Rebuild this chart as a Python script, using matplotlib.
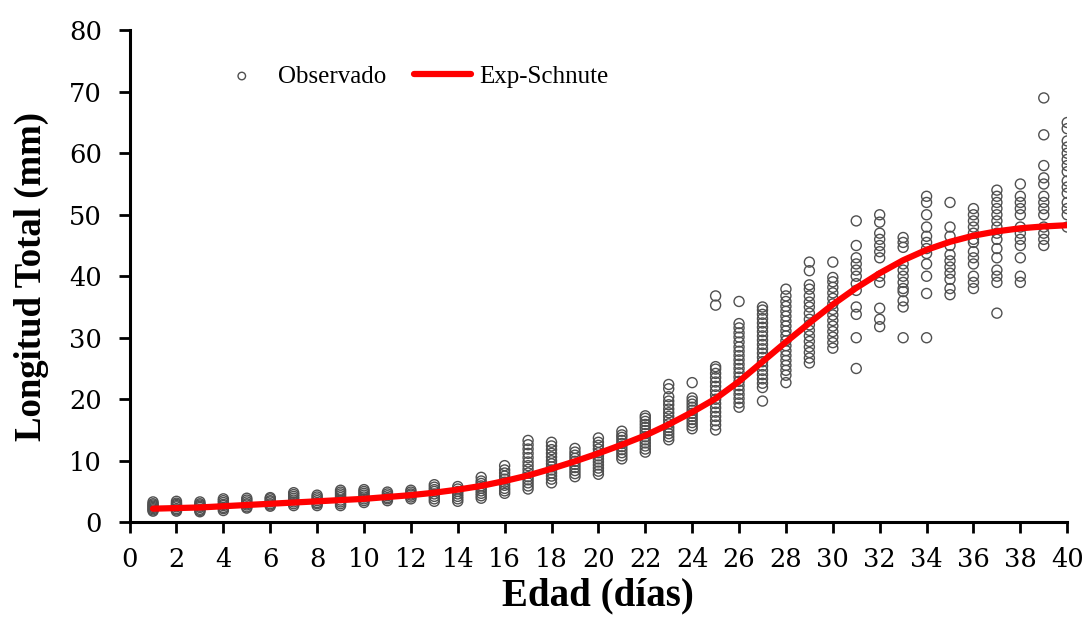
import matplotlib
matplotlib.use("Agg")
import matplotlib.pyplot as plt

# observed total length (mm) per age (days)
dias = list(range(1, 41))
lt_obs = [
    [1.8, 2.0, 2.2, 2.4, 2.6, 2.8, 3.0, 3.3],
    [1.8, 2.0, 2.2, 2.5, 2.7, 2.9, 3.1, 3.4],
    [1.7, 1.9, 2.1, 2.4, 2.6, 2.8, 3.0, 3.3],
    [1.9, 2.2, 2.4, 2.7, 2.9, 3.2, 3.5, 3.8],
    [2.3, 2.5, 2.8, 3.0, 3.3, 3.6, 3.9],
    [2.6, 2.8, 3.0, 3.3, 3.5, 3.8, 4.0],
    [2.7, 3.0, 3.3, 3.6, 3.9, 4.2, 4.5, 4.8],
    [2.7, 3.0, 3.2, 3.5, 3.8, 4.1, 4.4],
    [2.7, 3.0, 3.3, 3.6, 4.0, 4.3, 4.6, 4.9, 5.2],
    [3.2, 3.5, 3.8, 4.1, 4.4, 4.7, 5.0, 5.3],
    [3.5, 3.8, 4.0, 4.3, 4.6, 4.9],
    [3.8, 4.1, 4.4, 4.6, 4.9, 5.2],
    [3.4, 3.8, 4.2, 4.6, 5.0, 5.3, 5.7, 6.1],
    [3.4, 3.8, 4.2, 4.6, 5.0, 5.4, 5.8],
    [3.9, 4.3, 4.7, 5.1, 5.5, 5.9, 6.3, 6.7, 7.3],
    [4.7, 5.1, 5.5, 6.0, 6.5, 7.0, 7.5, 8.0, 8.5, 9.2],
    [5.4, 5.9, 6.4, 6.9, 7.4, 8.0, 8.6, 9.2, 9.8, 10.5, 11.2, 11.9, 12.6, 13.3],
    [6.4, 7.0, 7.5, 8.0, 8.5, 9.0, 9.5, 10.0, 10.6, 11.2, 11.8, 12.4, 13.0],
    [7.4, 7.9, 8.4, 8.9, 9.4, 9.9, 10.4, 10.9, 11.4, 12.0],
    [7.8, 8.3, 8.8, 9.3, 9.8, 10.3, 10.8, 11.3, 11.9, 12.5, 13.0, 13.7],
    [10.3, 10.8, 11.3, 11.8, 12.3, 12.8, 13.3, 13.8, 14.2, 14.8],
    [11.4, 11.9, 12.4, 12.9, 13.4, 13.9, 14.4, 14.9, 15.4, 15.9, 16.4, 16.9, 17.3],
    [13.4, 13.9, 14.4, 14.9, 15.4, 16.0, 16.6, 17.2, 17.8, 18.4, 19.1, 19.7, 20.4, 21.7, 22.4],
    [15.2, 15.7, 16.2, 16.7, 17.2, 17.7, 18.2, 18.7, 19.2, 19.7, 20.2, 22.7],
    [15.0, 15.8, 16.5, 17.2, 17.9, 18.6, 19.3, 20.0, 20.7, 21.4, 22.1, 22.8, 23.5, 24.2,
     24.9, 25.3, 35.3, 36.8],
    [18.7, 19.4, 20.1, 20.8, 21.5, 22.2, 22.9, 23.6, 24.3, 25.0, 25.7, 26.4, 27.1, 27.8,
     28.5, 29.3, 30.1, 30.8, 31.6, 32.3, 35.9],
    [19.7, 21.9, 22.6, 23.3, 24.0, 24.7, 25.4, 26.1, 26.8, 27.5, 28.2, 28.9, 29.6, 30.3,
     31.0, 31.7, 32.4, 33.1, 33.8, 34.5, 35.0],
    [22.7, 23.9, 24.7, 25.5, 26.3, 27.1, 27.9, 28.7, 29.5, 30.3, 31.1, 31.9, 32.7, 33.5,
     34.3, 35.1, 35.9, 36.8, 37.9],
    [25.9, 26.7, 27.6, 28.5, 29.4, 30.3, 31.2, 32.1, 33.0, 34.0, 35.0, 35.8, 36.8, 37.9,
     38.6, 40.9, 42.3],
    [28.3, 29.2, 30.1, 31.0, 31.9, 32.8, 33.7, 34.6, 35.5, 36.4, 37.3, 38.2, 39.1, 39.8, 42.3],
    [25.0, 30.0, 33.8, 35.0, 37.7, 38.8, 40.0, 41.0, 42.0, 43.0, 45.0, 49.0],
    [31.8, 33.0, 34.8, 39.0, 40.0, 43.0, 44.0, 45.0, 46.0, 47.0, 48.8, 50.0],
    [30.0, 35.0, 36.0, 37.5, 38.0, 39.0, 40.0, 41.0, 42.0, 44.7, 45.5, 46.3],
    [30.0, 37.2, 40.0, 42.0, 43.7, 44.5, 45.5, 46.5, 48.0, 50.0, 52.0, 53.0],
    [37.0, 38.0, 39.5, 40.5, 41.5, 42.5, 43.5, 45.0, 46.5, 48.0, 52.0],
    [38.0, 39.0, 40.0, 42.0, 43.0, 44.0, 45.5, 46.0, 47.0, 48.0, 49.0, 50.0, 51.0],
    [34.0, 39.0, 40.0, 41.0, 43.0, 44.5, 46.0, 47.0, 48.0, 49.0, 50.0, 51.0, 52.0, 53.0, 54.0],
    [39.0, 40.0, 43.0, 45.0, 46.0, 47.0, 48.0, 50.0, 51.0, 52.0, 53.0, 55.0],
    [45.0, 46.0, 47.0, 48.0, 50.0, 51.0, 52.0, 53.0, 55.0, 56.0, 58.0, 63.0, 69.0],
    [48.0, 50.0, 51.0, 52.0, 53.5, 54.5, 55.5, 57.0, 58.0, 59.0, 60.0, 61.0, 62.0, 64.0, 65.0],
]

# fitted Exp-Schnute curve
lt_fit = [2.2, 2.3, 2.4, 2.6, 2.8, 3.0, 3.2, 3.4, 3.6, 3.8,
          4.1, 4.4, 4.8, 5.3, 5.9, 6.7, 7.6, 8.7, 9.9, 11.2,
          12.6, 14.1, 15.9, 17.9, 20.1, 22.9, 26.1, 29.3, 32.4, 35.4,
          38.1, 40.5, 42.6, 44.3, 45.6, 46.6, 47.3, 47.8, 48.1, 48.3]

x_pts = [d for d, vals in zip(dias, lt_obs) for _ in vals]
y_pts = [v for vals in lt_obs for v in vals]

plt.rcParams["font.family"] = ["Liberation Serif", "DejaVu Serif"]

fig = plt.figure(figsize=(10.89, 6.18), dpi=100)
ax = fig.add_axes([0.119, 0.155, 0.861, 0.796])

ax.scatter(x_pts, y_pts, s=52, facecolors="none", edgecolors="#505050",
           linewidths=1.0, label="Observado", zorder=2)
ax.plot(dias, lt_fit, color="#ff0000", lw=4.5, label="Exp-Schnute", zorder=3,
        solid_capstyle="round")

ax.set_xlim(0, 40)
ax.set_ylim(0, 80)
ax.set_xticks(range(0, 41, 2))
ax.set_yticks(range(0, 81, 10))
ax.tick_params(axis="both", labelsize=18.5, width=2, length=8, direction="out")
ax.tick_params(axis="y", pad=12)
ax.tick_params(axis="x", pad=10)
for lbl in ax.get_xticklabels() + ax.get_yticklabels():
    lbl.set_fontfamily("DejaVu Serif")
for s in ("top", "right"):
    ax.spines[s].set_visible(False)
for s in ("left", "bottom"):
    ax.spines[s].set_linewidth(2.2)

ax.set_xlabel("Edad (días)", fontsize=28, fontweight="bold", labelpad=4)
ax.set_ylabel("Longitud Total (mm)", fontsize=26.5, fontweight="bold", labelpad=14)

ax.legend(loc="upper left", bbox_to_anchor=(0.065, 0.975), ncol=2, frameon=False,
          fontsize=18, handlelength=2.3, columnspacing=1.1, handletextpad=0.3,
          scatterpoints=1, markerscale=0.75)

fig.savefig("out.png", dpi=100)
